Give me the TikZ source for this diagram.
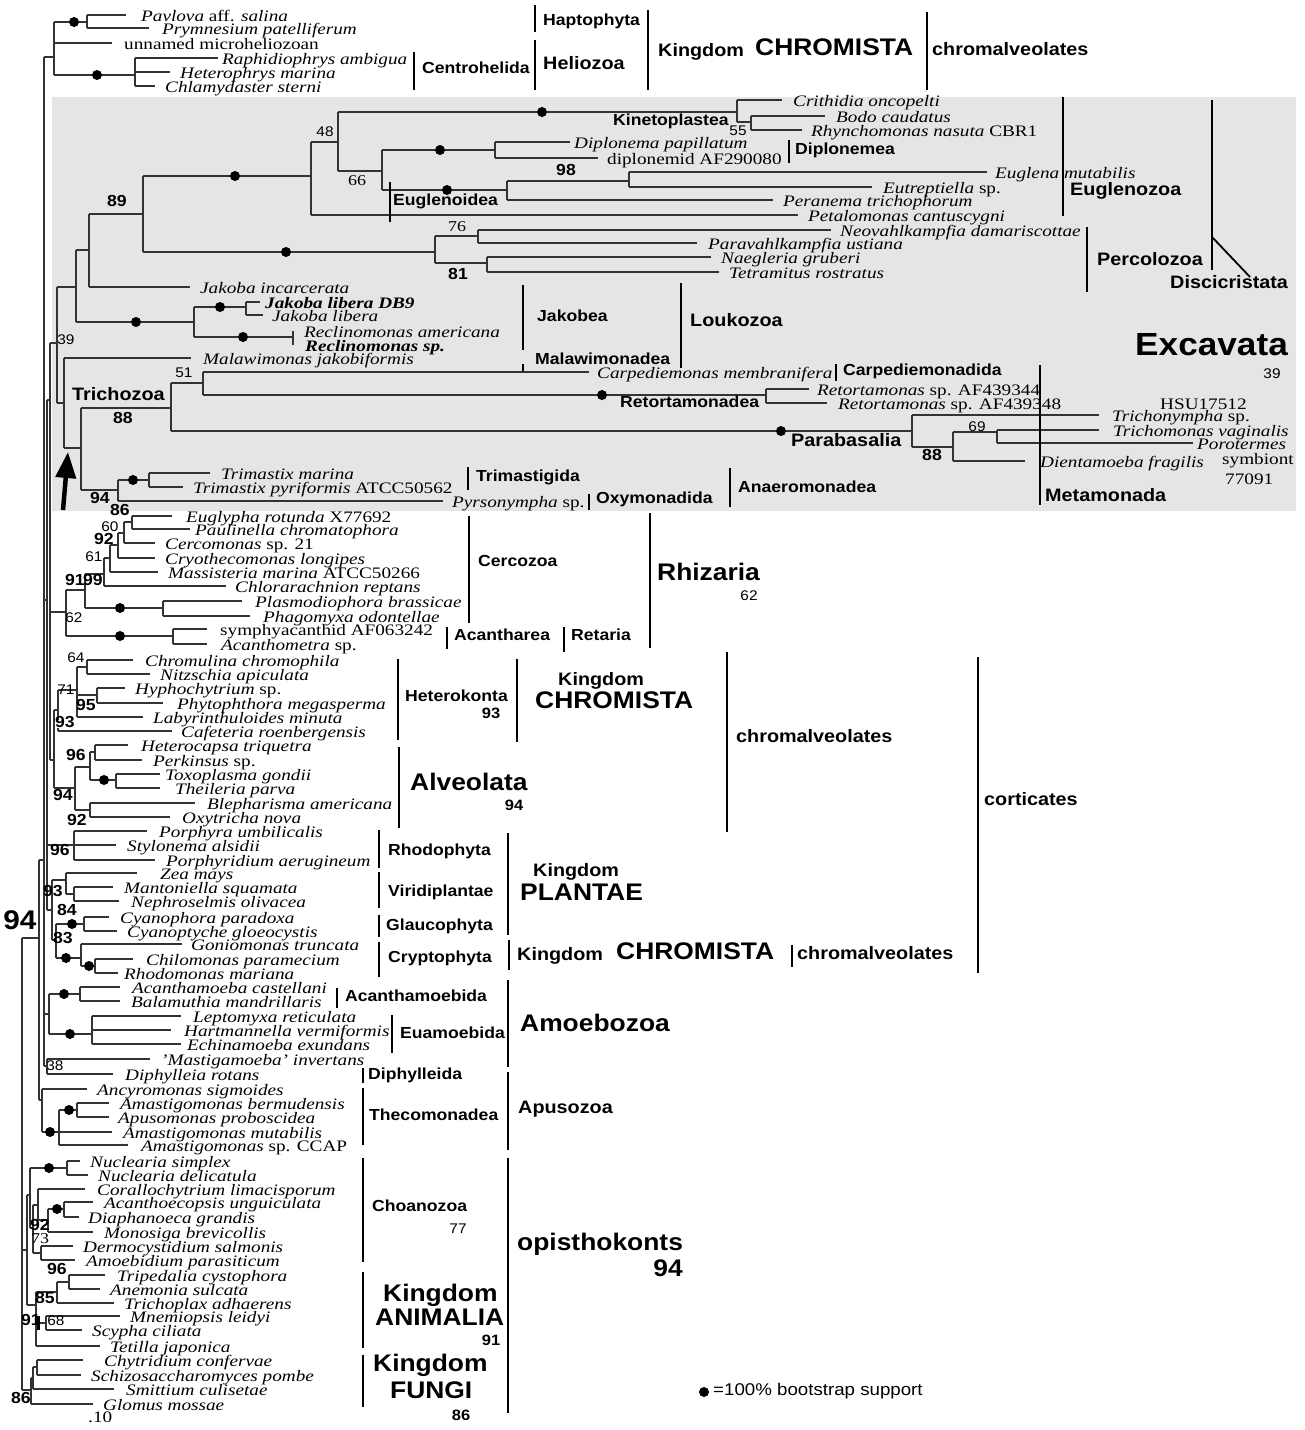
\documentclass[tikz,border=0pt]{standalone}
\usepackage{fontspec}
\setmainfont{Liberation Serif}[FakeStretch=1.2]
\newfontfamily\labfont{Liberation Sans}[FakeStretch=1.1]
\usetikzlibrary{arrows.meta}
\tikzset{
 br/.style={line width=1.25pt, draw=black!80},
 barl/.style={line width=2.6pt, draw=black},
 tax/.style={anchor=base west, inner sep=0pt, font=\fontsize{16}{16}\selectfont\itshape},
 lab/.style={anchor=west, inner sep=0pt, text height=0.72em, text depth=0pt},
 numl/.style={inner sep=0pt, text height=0.72em, text depth=0pt},
}
\newcommand\vln[3]{\draw[br] (#1,#2) -- (#1,#3);}
\newcommand\hln[3]{\draw[br] (#1,#3) -- (#2,#3);}
\newcommand\dotn[2]{\fill[black] (#1,#2) circle (5pt);}
\newcommand\txn[3]{\node[tax] at (#1,{#2+6}) {#3};}
\newcommand\barn[3]{\draw[barl] (#1,#2) -- (#1,#3);}
\newcommand\labn[4]{\node[lab, font=\labfont\bfseries\fontsize{#3}{#3}\selectfont] at (#1,#2) {#4};}
\newcommand\nbn[3]{\node[numl, font=\labfont\bfseries\fontsize{16}{16}\selectfont] at (#1,#2) {#3};}
\newcommand\nrn[3]{\node[numl, font=\labfont\fontsize{14}{14}\selectfont] at (#1,#2) {#3};}
\newcommand\nsn[3]{\node[numl, font=\fontsize{15}{15}\selectfont] at (#1,#2) {#3};}
\begin{document}
\begin{tikzpicture}[x=1pt,y=-1pt]
\useasboundingbox (0,0) rectangle (1305,1430);
\fill[white] (0,0) rectangle (1305,1430);
% Excavata box
\fill[black!10] (52,97) rectangle (1296,511);

% ---------- top clade ----------
\hln{44}{54}{57}
\vln{54}{22}{75}
\hln{54}{87}{22} \dotn{74}{22}
\hln{54}{112}{43}
\hln{54}{135}{75} \dotn{97}{75}
\vln{87}{15}{28}
\hln{87}{126}{15} \hln{87}{149}{28}
\vln{135}{58}{86}
\hln{135}{218}{58} \hln{135}{170}{72} \hln{135}{155}{86}

% ---------- backbone ----------
\vln{44}{57}{1066}
\hln{44}{47}{600}
\vln{47}{400}{910}
\hln{47}{50}{400}
\vln{50}{343}{760}
\hln{50}{57}{343}
\hln{50}{66}{612}
\hln{50}{54}{760}
\hln{47}{74}{845}
\hln{47}{52}{910}
\hln{44}{49}{1014}
\hln{44}{47}{1066}

% ---------- Excavata ----------
\vln{57}{287}{403}
\hln{57}{76}{287}
\hln{57}{64}{403}
\vln{76}{250}{322}
\hln{76}{89}{250}
\hln{76}{194}{322} \dotn{136}{322}
\vln{89}{214}{287}
\hln{89}{143}{214}
\hln{89}{190}{287}
\vln{143}{176}{252}
\hln{143}{311}{176} \dotn{235}{176}
\hln{143}{435}{252} \dotn{286}{252}
\vln{311}{142}{215}
\hln{311}{338}{142}
\hln{311}{798}{215}
\vln{338}{112}{171}
\hln{338}{737}{112} \dotn{542}{112}
\hln{338}{382}{171}
\vln{737}{100}{122}
\hln{737}{782}{100}
\hln{737}{751}{122}
\vln{751}{116}{130}
\hln{751}{825}{116}
\hln{751}{802}{130}
\vln{382}{150}{190}
\hln{382}{495}{150} \dotn{440}{150}
\hln{382}{507}{190} \dotn{447}{190}
\vln{495}{142}{158}
\hln{495}{570}{142}
\hln{495}{598}{158}
\vln{507}{181}{200}
\hln{507}{629}{181}
\hln{507}{773}{200}
\vln{629}{172}{187}
\hln{629}{987}{172}
\hln{629}{872}{187}
\vln{435}{236}{263}
\hln{435}{478}{236}
\hln{435}{487}{263}
\vln{478}{230}{243}
\hln{478}{831}{230}
\hln{478}{697}{243}
\vln{487}{257}{272}
\hln{487}{711}{257}
\hln{487}{719}{272}
\vln{194}{307}{337}
\hln{194}{246}{307} \dotn{220}{307}
\hln{194}{293}{337} \dotn{243}{337}
\vln{246}{302}{315}
\hln{246}{260}{302}
\hln{246}{263}{315}
\vln{293}{331}{345}
\vln{64}{358}{448}
\hln{64}{191}{358}
\hln{64}{81}{448}
\vln{81}{408}{490}
\hln{81}{171}{408}
\hln{81}{118}{490}
\vln{171}{383}{431}
\hln{171}{203}{383}
\hln{171}{912}{431} \dotn{781}{431}
\vln{203}{372}{395}
\hln{203}{589}{372}
\hln{203}{766}{395} \dotn{602}{395}
\vln{766}{389}{403}
\hln{766}{809}{389}
\hln{766}{827}{403}
\vln{912}{415}{447}
\hln{912}{1099}{415}
\hln{912}{953}{447}
\vln{953}{432}{461}
\hln{953}{997}{432}
\hln{953}{1025}{461}
\vln{997}{430}{443}
\hln{997}{1099}{430}
\hln{997}{1193}{443}
\vln{118}{480}{501}
\hln{118}{149}{480} \dotn{133}{480}
\hln{118}{443}{501}
\vln{149}{473}{487}
\hln{149}{210}{473}
\hln{149}{183}{487}

% ---------- Rhizaria ----------
\vln{66}{590}{636}
\hln{66}{85}{590}
\hln{66}{173}{636} \dotn{120}{636}
\vln{173}{629}{644}
\hln{173}{207}{629} \hln{173}{207}{644}
\vln{85}{574}{608}
\hln{85}{104}{574}
\hln{85}{163}{608} \dotn{120}{608}
\vln{163}{601}{616}
\hln{163}{242}{601} \hln{163}{250}{616}
\vln{104}{558}{586}
\hln{104}{110}{558}
\hln{104}{226}{586}
\vln{110}{545}{572}
\hln{110}{118}{545}
\hln{110}{158}{572}
\vln{118}{533}{558}
\hln{118}{124}{533}
\hln{118}{155}{558}
\vln{124}{522}{543}
\hln{124}{132}{522}
\hln{124}{155}{543}
\vln{132}{516}{529}
\hln{132}{172}{516} \hln{132}{190}{529}

% ---------- chromalveolates ----------
\vln{54}{710}{788}
\hln{54}{58}{710}
\hln{54}{75}{788}
\vln{58}{690}{731}
\hln{58}{77}{690}
\hln{58}{172}{731}
\vln{77}{667}{717}
\hln{77}{87}{667}
\hln{77}{97}{695}
\hln{77}{143}{717}
\vln{87}{660}{674}
\hln{87}{133}{660} \hln{87}{150}{674}
\vln{97}{688}{703}
\hln{97}{125}{688} \hln{97}{163}{703}
\vln{75}{767}{810}
\hln{75}{90}{767}
\hln{75}{90}{810}
\vln{90}{752}{780}
\hln{90}{95}{752}
\hln{90}{116}{780} \dotn{104}{780}
\vln{95}{745}{760}
\hln{95}{128}{745} \hln{95}{142}{760}
\vln{116}{774}{788}
\hln{116}{160}{774} \hln{116}{160}{788}
\vln{90}{803}{817}
\hln{90}{195}{803} \hln{90}{170}{817}

% ---------- plants ----------
\vln{74}{831}{860}
\hln{74}{147}{831} \hln{74}{116}{845} \hln{74}{155}{860}
\vln{52}{880}{940}
\hln{52}{66}{880}
\hln{52}{56}{940}
\vln{66}{873}{894}
\hln{66}{137}{873}
\hln{66}{74}{894}
\vln{74}{887}{901}
\hln{74}{113}{887} \hln{74}{119}{901}
\vln{56}{924}{958}
\hln{56}{84}{924} \dotn{72}{924}
\hln{56}{81}{958} \dotn{66}{958}
\vln{84}{917}{931}
\hln{84}{109}{917} \hln{84}{117}{931}
\vln{81}{944}{966}
\hln{81}{182}{944}
\hln{81}{95}{966} \dotn{89}{966}
\vln{95}{959}{973}
\hln{95}{133}{959} \hln{95}{118}{973}

% ---------- Amoebozoa, Apusozoa ----------
\vln{49}{994}{1034}
\hln{49}{80}{994} \dotn{64}{994}
\hln{49}{92}{1034} \dotn{70}{1034}
\vln{80}{987}{1001}
\hln{80}{120}{987} \hln{80}{120}{1001}
\vln{92}{1016}{1044}
\hln{92}{181}{1016} \hln{92}{171}{1030} \hln{92}{181}{1044}
\vln{47}{1059}{1074}
\hln{47}{150}{1059} \hln{47}{113}{1074}
\vln{39}{860}{1100}
\hln{39}{44}{860}
\hln{39}{42}{1100}
\vln{42}{1089}{1132}
\hln{42}{87}{1089}
\hln{42}{59}{1132} \dotn{50}{1132}
\vln{59}{1110}{1145}
\hln{59}{77}{1110} \dotn{69}{1110}
\hln{59}{112}{1132} \hln{59}{128}{1145}
\vln{77}{1103}{1117}
\hln{77}{109}{1103} \hln{77}{109}{1117}

% ---------- root, opisthokonts ----------
\vln{22}{938}{1390}
\hln{22}{39}{938}
\hln{22}{27}{1250}
\hln{22}{31}{1390}
\vln{27}{1195}{1305}
\hln{27}{30}{1195}
\hln{27}{36}{1305}
\vln{30}{1168}{1228}
\hln{30}{67}{1168} \dotn{49}{1168}
\hln{30}{33}{1228}
\vln{67}{1161}{1175}
\hln{67}{80}{1161} \hln{67}{88}{1175}
\vln{33}{1205}{1253}
\hln{33}{38}{1205}
\hln{33}{41}{1253}
\vln{38}{1189}{1220}
\hln{38}{85}{1189}
\hln{38}{48}{1220}
\vln{48}{1209}{1232}
\hln{48}{64}{1209} \dotn{57}{1209}
\hln{48}{93}{1232}
\vln{64}{1202}{1217}
\hln{64}{93}{1202} \hln{64}{79}{1217}
\vln{41}{1246}{1260}
\hln{41}{73}{1246} \hln{41}{75}{1260}
\vln{36}{1292}{1346}
\hln{36}{57}{1292}
\hln{36}{46}{1323}
\hln{36}{100}{1346}
\draw[line width=3pt] (38,1316) -- (38,1330);
\vln{57}{1282}{1303}
\hln{57}{69}{1282}
\hln{57}{114}{1303}
\vln{69}{1275}{1289}
\hln{69}{105}{1275} \hln{69}{100}{1289}
\vln{46}{1316}{1330}
\hln{46}{120}{1316} \hln{46}{82}{1330}
\vln{31}{1378}{1404}
\hln{31}{33}{1378}
\hln{31}{93}{1404}
\vln{33}{1367}{1389}
\hln{33}{37}{1367}
\hln{33}{114}{1389}
\vln{37}{1360}{1375}
\hln{37}{83}{1360} \hln{37}{81}{1375}

% ---------- taxon names ----------
\txn{141}{15}{Pavlova \upshape aff. \itshape salina}
\txn{162}{28}{Prymnesium patelliferum}
\txn{124}{43}{\upshape unnamed microheliozoan}
\txn{222}{58}{Raphidiophrys ambigua}
\txn{180}{72}{Heterophrys marina}
\txn{165}{86}{Chlamydaster sterni}
\txn{793}{100}{Crithidia oncopelti}
\txn{836}{116}{Bodo caudatus}
\txn{811}{130}{Rhynchomonas nasuta \upshape CBR1}
\txn{574}{142}{Diplonema papillatum}
\txn{607}{158}{\upshape diplonemid AF290080}
\txn{995}{172}{Euglena mutabilis}
\txn{883}{187}{Eutreptiella \upshape sp.}
\txn{783}{200}{Peranema trichophorum}
\txn{808}{215}{Petalomonas cantuscygni}
\txn{840}{230}{Neovahlkampfia damariscottae}
\txn{708}{243}{Paravahlkampfia ustiana}
\txn{721}{257}{Naegleria gruberi}
\txn{729}{272}{Tetramitus rostratus}
\txn{200}{287}{Jakoba incarcerata}
\txn{265}{302}{\bfseries Jakoba libera DB9}
\txn{272}{315}{Jakoba libera}
\txn{304}{331}{Reclinomonas americana}
\txn{305}{345}{\bfseries Reclinomonas sp.}
\txn{203}{358}{Malawimonas jakobiformis}
\txn{597}{372}{Carpediemonas membranifera}
\txn{817}{389}{Retortamonas \upshape sp. AF439344}
\txn{838}{403}{Retortamonas \upshape sp. AF439348}
\txn{1160}{403}{\upshape HSU17512}
\txn{1112}{415}{Trichonympha \upshape sp.}
\txn{1113}{430}{Trichomonas vaginalis}
\txn{1197}{443}{Porotermes}
\txn{1222}{458}{\upshape symbiont}
\txn{1225}{478}{\upshape 77091}
\txn{1040}{461}{Dientamoeba fragilis}
\txn{221}{473}{Trimastix marina}
\txn{193}{487}{Trimastix pyriformis \upshape ATCC50562}
\txn{452}{501}{Pyrsonympha \upshape sp.}
\txn{186}{516}{Euglypha rotunda \upshape X77692}
\txn{195}{529}{Paulinella chromatophora}
\txn{165}{543}{Cercomonas \upshape sp. 21}
\txn{165}{558}{Cryothecomonas longipes}
\txn{168}{572}{Massisteria marina \upshape ATCC50266}
\txn{235}{586}{Chlorarachnion reptans}
\txn{255}{601}{Plasmodiophora brassicae}
\txn{263}{616}{Phagomyxa odontellae}
\txn{220}{629}{\upshape symphyacanthid AF063242}
\txn{221}{644}{Acanthometra \upshape sp.}
\txn{145}{660}{Chromulina chromophila}
\txn{160}{674}{Nitzschia apiculata}
\txn{135}{688}{Hyphochytrium \upshape sp.}
\txn{177}{703}{Phytophthora megasperma}
\txn{153}{717}{Labyrinthuloides minuta}
\txn{181}{731}{Cafeteria roenbergensis}
\txn{141}{745}{Heterocapsa triquetra}
\txn{153}{760}{Perkinsus \upshape sp.}
\txn{165}{774}{Toxoplasma gondii}
\txn{175}{788}{Theileria parva}
\txn{207}{803}{Blepharisma americana}
\txn{182}{817}{Oxytricha nova}
\txn{159}{831}{Porphyra umbilicalis}
\txn{127}{845}{Stylonema alsidii}
\txn{166}{860}{Porphyridium aerugineum}
\txn{160}{873}{Zea mays}
\txn{124}{887}{Mantoniella squamata}
\txn{131}{901}{Nephroselmis olivacea}
\txn{120}{917}{Cyanophora paradoxa}
\txn{127}{931}{Cyanoptyche gloeocystis}
\txn{191}{944}{Goniomonas truncata}
\txn{146}{959}{Chilomonas paramecium}
\txn{124}{973}{Rhodomonas mariana}
\txn{132}{987}{Acanthamoeba castellani}
\txn{131}{1001}{Balamuthia mandrillaris}
\txn{193}{1016}{Leptomyxa reticulata}
\txn{184}{1030}{Hartmannella vermiformis}
\txn{187}{1044}{Echinamoeba exundans}
\txn{161}{1059}{'Mastigamoeba' invertans}
\txn{125}{1074}{Diphylleia rotans}
\txn{97}{1089}{Ancyromonas sigmoides}
\txn{120}{1103}{Amastigomonas bermudensis}
\txn{118}{1117}{Apusomonas proboscidea}
\txn{123}{1132}{Amastigomonas mutabilis}
\txn{141}{1145}{Amastigomonas \upshape sp. CCAP}
\txn{90}{1161}{Nuclearia simplex}
\txn{98}{1175}{Nuclearia delicatula}
\txn{97}{1189}{Corallochytrium limacisporum}
\txn{104}{1202}{Acanthoecopsis unguiculata}
\txn{88}{1217}{Diaphanoeca grandis}
\txn{104}{1232}{Monosiga brevicollis}
\txn{83}{1246}{Dermocystidium salmonis}
\txn{86}{1260}{Amoebidium parasiticum}
\txn{117}{1275}{Tripedalia cystophora}
\txn{110}{1289}{Anemonia sulcata}
\txn{124}{1303}{Trichoplax adhaerens}
\txn{130}{1316}{Mnemiopsis leidyi}
\txn{92}{1330}{Scypha ciliata}
\txn{110}{1346}{Tetilla japonica}
\txn{104}{1360}{Chytridium confervae}
\txn{91}{1375}{Schizosaccharomyces pombe}
\txn{126}{1389}{Smittium culisetae}
\txn{103}{1404}{Glomus mossae}
\txn{88}{1416}{\upshape .10}

% ---------- support values ----------
\nbn{117}{203}{89}
\nrn{325}{133}{48}
\nsn{357}{182}{66}
\nbn{566}{172}{98}
\nsn{457}{228}{76}
\nbn{458}{276}{81}
\nrn{738}{132}{55}
\nrn{66}{341}{39}
\nrn{184}{374}{51}
\nbn{123}{420}{88}
\nbn{100}{500}{94}
\nrn{977}{428}{69}
\nbn{932}{457}{88}
\nbn{120}{512}{86}
\nrn{110}{528}{60}
\nbn{104}{541}{92}
\nrn{94}{558}{61}
\nbn{75}{582}{91}
\nbn{93}{582}{99}
\nrn{74}{619}{62}
\nrn{76}{659}{64}
\nrn{66}{691}{71}
\nbn{86}{707}{95}
\node[numl, fill=white, font=\labfont\bfseries\fontsize{16}{16}\selectfont] at (65,724) {93};
\nbn{76}{757}{96}
\nbn{63}{797}{94}
\nbn{77}{822}{92}
\nbn{60}{852}{96}
\nbn{53}{893}{93}
\nbn{67}{912}{84}
\nbn{63}{940}{83}
\node[numl, font=\labfont\bfseries\fontsize{27}{27}\selectfont] at (20,926) {94};
\nrn{55}{1067}{38}
\nbn{40}{1227}{92}
\nsn{40}{1240}{73}
\nbn{57}{1271}{96}
\nbn{45}{1300}{85}
\nbn{31}{1322}{91}
\nrn{56}{1322}{68}
\nbn{21}{1400}{86}

% ---------- arrow ----------
\draw[line width=4.5pt, -{Triangle[length=26pt,width=20pt]}] (63,510) -- (68,452);

% ---------- group bars and labels ----------
\barn{535}{5}{32} \labn{543}{22}{16}{Haptophyta}
\barn{535}{40}{90} \labn{543}{66}{18}{Heliozoa}
\barn{414}{52}{90} \labn{422}{70}{16}{Centrohelida}
\barn{648}{10}{90} \labn{658}{53}{18}{Kingdom} \labn{755}{52}{24}{CHROMISTA}
\barn{927}{12}{90} \labn{932}{52}{18}{chromalveolates}

\labn{613}{122}{16}{Kinetoplastea}
\barn{789}{140}{163} \labn{795}{151}{16}{Diplonemea}
\barn{390}{182}{222} \labn{393}{202}{16}{Euglenoidea}
\barn{1063}{97}{216} \labn{1070}{192}{18}{Euglenozoa}
\barn{1087}{227}{292} \labn{1097}{262}{18}{Percolozoa}
\barn{1212}{100}{270}
\draw[line width=1.8pt] (1212,237) -- (1250,277);
\labn{1170}{285}{18}{Discicristata}
\barn{523}{285}{350} \labn{537}{318}{16}{Jakobea}
\barn{523}{364}{371} \labn{535}{361}{16}{Malawimonadea}
\barn{681}{283}{368} \labn{690}{323}{18}{Loukozoa}
\labn{1135}{352}{32}{Excavata}
\nrn{1272}{375}{39}
\barn{836}{364}{381} \labn{843}{372}{16}{Carpediemonadida}
\labn{620}{404}{16}{Retortamonadea}
\labn{791}{443}{18}{Parabasalia}
\barn{1040}{365}{505} \labn{1045}{498}{18}{Metamonada}
\barn{468}{467}{490} \labn{476}{478}{16}{Trimastigida}
\barn{589}{494}{510} \labn{596}{500}{16}{Oxymonadida}
\barn{730}{468}{507} \labn{738}{489}{16}{Anaeromonadea}
\labn{72}{397}{18}{Trichozoa}

\barn{469}{516}{623} \labn{478}{563}{16}{Cercozoa}
\barn{447}{627}{649} \labn{454}{637}{16}{Acantharea}
\barn{564}{627}{652} \labn{571}{637}{16}{Retaria}
\barn{650}{513}{648} \labn{657}{577}{24}{Rhizaria}
\nrn{749}{597}{62}

\barn{398}{659}{740} \labn{405}{698}{16}{Heterokonta}
\node[numl, font=\labfont\bfseries\fontsize{15}{15}\selectfont] at (491,715) {93};
\barn{517}{659}{742} \labn{558}{682}{18}{Kingdom} \labn{535}{705}{24}{CHROMISTA}
\barn{727}{652}{832} \labn{736}{739}{18}{chromalveolates}
\barn{399}{747}{828} \labn{410}{787}{24}{Alveolata}
\node[numl, font=\labfont\bfseries\fontsize{15}{15}\selectfont] at (514,807) {94};
\barn{978}{657}{973} \labn{984}{802}{18}{corticates}

\barn{379}{830}{868} \labn{388}{852}{16}{Rhodophyta}
\barn{379}{872}{908} \labn{388}{893}{16}{Viridiplantae}
\barn{379}{915}{937} \labn{386}{927}{16}{Glaucophyta}
\barn{379}{942}{977} \labn{388}{959}{16}{Cryptophyta}
\barn{508}{833}{935} \labn{533}{873}{18}{Kingdom} \labn{520}{897}{24}{PLANTAE}
\barn{509}{940}{970} \labn{517}{957}{18}{Kingdom} \labn{616}{956}{24}{CHROMISTA}
\barn{792}{945}{967} \labn{797}{956}{18}{chromalveolates}

\barn{337}{988}{1008} \labn{345}{998}{16}{Acanthamoebida}
\barn{392}{1015}{1053} \labn{400}{1035}{16}{Euamoebida}
\barn{508}{980}{1067} \labn{520}{1028}{24}{Amoebozoa}
\barn{363}{1068}{1083} \labn{368}{1076}{16}{Diphylleida}
\barn{363}{1088}{1145} \labn{369}{1117}{16}{Thecomonadea}
\barn{508}{1072}{1150} \labn{518}{1110}{18}{Apusozoa}
\barn{363}{1158}{1262} \labn{372}{1208}{16}{Choanozoa}
\nrn{458}{1230}{77}
\barn{508}{1158}{1413} \labn{517}{1247}{24}{opisthokonts}
\node[numl, font=\labfont\bfseries\fontsize{24}{24}\selectfont, anchor=east] at (683,1273) {94};
\barn{363}{1272}{1348} \labn{383}{1298}{24}{Kingdom} \labn{375}{1322}{24}{ANIMALIA}
\node[numl, font=\labfont\bfseries\fontsize{15}{15}\selectfont] at (491,1342) {91};
\barn{363}{1355}{1407} \labn{373}{1368}{24}{Kingdom} \labn{390}{1395}{24}{FUNGI}
\node[numl, font=\labfont\bfseries\fontsize{15}{15}\selectfont] at (461,1417) {86};

% legend
\dotn{704}{1392}
\node[lab, font=\labfont\fontsize{17}{17}\selectfont] at (713,1392) {=100\% bootstrap support};
\end{tikzpicture}
\end{document}
